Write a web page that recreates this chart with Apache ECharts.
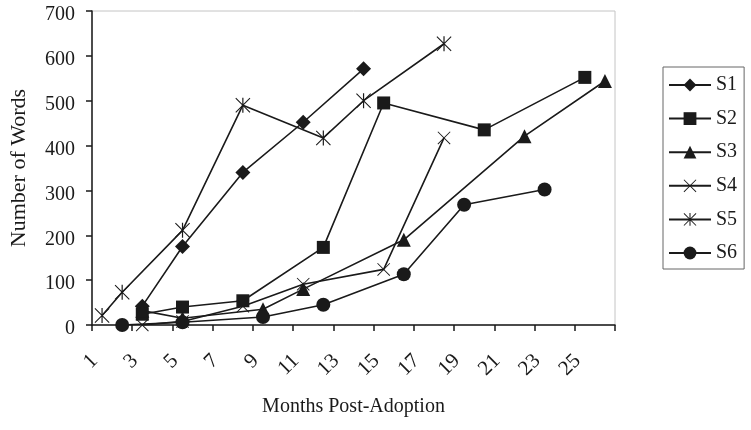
<!DOCTYPE html>
<html><head><meta charset="utf-8">
<script src="https://cdn.jsdelivr.net/npm/echarts@6/dist/echarts.min.js"></script>
<style>html,body{margin:0;padding:0;background:#fff}#c{width:751px;height:430px}</style>
</head><body><div id="c"></div>
<script>
const months = ['1','2','3','4','5','6','7','8','9','10','11','12','13','14','15','16','17','18','19','20','21','22','23','24','25','26'];
const yTicks = [0,100,200,300,400,500,600,700];

const S1_months = ['3','5','8','11','14'];
const S1_words  = [42,175,340,452,571];
const S2_months = ['3','5','8','12','15','20','25'];
const S2_words  = [24,40,54,173,495,435,552];
const S3_months = ['3','5','9','11','16','22','26'];
const S3_words  = [32,15,35,80,190,421,544];
const S4_months = ['3','5','8','11','15','18'];
const S4_words  = [0,8,42,91,124,417];
const S5_months = ['1','2','5','8','12','14','18'];
const S5_words  = [21,73,211,490,417,500,627];
const S6_months = ['2','5','9','12','16','19','23'];
const S6_words  = [0,6,18,45,113,268,302];

const FONT = 'Liberation Serif';
const INK = '#1a1a1a';
const X_PATH = 'path://M0,1 L1,0 L20,19 L19,20 Z M19,0 L20,1 L1,20 L0,19 Z';
const AST_PATH = 'path://M0,1 L1,0 L20,19 L19,20 Z M19,0 L20,1 L1,20 L0,19 Z M9.2,0 L10.8,0 L10.8,20 L9.2,20 Z';

function zip(m, v){ return m.map((x,i)=>[x, v[i]]); }
function mk(name, m, v, symbol, size){
  return {
    name, type:'line', data: zip(m,v), symbol, symbolSize:size,
    lineStyle:{color:INK, width:1.6},
    itemStyle:{color:INK},
    showSymbol:true, showAllSymbol:true, connectNulls:true
  };
}

const chart = echarts.init(document.getElementById('c'), null, {renderer:'canvas'});
chart.setOption({
  animation:false,
  backgroundColor:'#fff',
  textStyle:{fontFamily:FONT, color:INK},
  grid:{left:88, top:11, right:136, bottom:105, show:true, borderColor:'#c4c4c4', borderWidth:1},
  legend:{
    orient:'vertical', left:663, top:67, padding:[8,7,6,5],
    borderColor:'#666', borderWidth:1,
    itemWidth:42, itemHeight:16, itemGap:13.6,
    textStyle:{fontFamily:FONT, fontSize:20, color:INK},
    data:['S1','S2','S3','S4','S5','S6']
  },
  xAxis:{
    type:'category', data:months, boundaryGap:true,
    name:'Months Post-Adoption', nameLocation:'middle', nameGap:72,
    nameTextStyle:{fontFamily:FONT, fontSize:20, color:INK},
    axisLine:{lineStyle:{color:INK, width:1.5}},
    axisTick:{show:true, interval:1, length:6, lineStyle:{color:INK, width:1.5}},
    axisLabel:{interval:1, rotate:45, fontFamily:FONT, fontSize:21, color:INK, margin:40, verticalAlign:'bottom'},
    splitLine:{show:false}
  },
  yAxis:{
    type:'value', min:yTicks[0], max:yTicks[yTicks.length-1], interval:100,
    name:'Number of Words', nameLocation:'middle', nameGap:62,
    nameTextStyle:{fontFamily:FONT, fontSize:22, color:INK},
    axisLine:{show:true, lineStyle:{color:INK, width:1.5}},
    axisTick:{show:true, length:6, lineStyle:{color:INK, width:1.5}},
    axisLabel:{fontFamily:FONT, fontSize:20, color:INK, margin:17, verticalAlign:'top', lineHeight:8},
    splitLine:{show:false}
  },
  series:[
    mk('S1', S1_months, S1_words, 'diamond', 15),
    mk('S2', S2_months, S2_words, 'rect', 13),
    mk('S3', S3_months, S3_words, 'triangle', 14),
    mk('S4', S4_months, S4_words, X_PATH, 13),
    mk('S5', S5_months, S5_words, AST_PATH, 15),
    mk('S6', S6_months, S6_words, 'circle', 14)
  ]
});
</script></body></html>
